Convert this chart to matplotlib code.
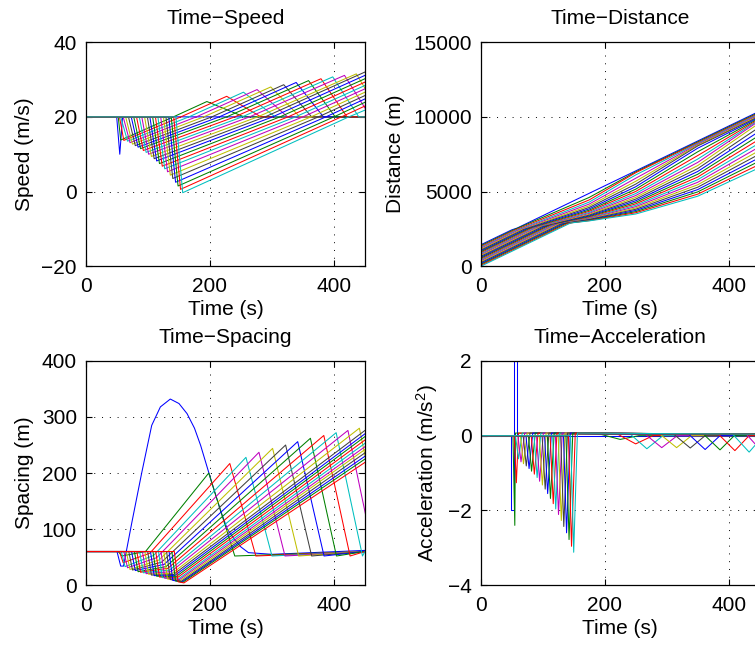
import matplotlib
matplotlib.use('Agg')
import matplotlib.pyplot as plt

plt.rcParams['font.family'] = ['Liberation Sans', 'DejaVu Sans']
plt.rcParams['mathtext.fontset'] = 'custom'
plt.rcParams['mathtext.rm'] = 'Liberation Sans'
plt.rcParams['mathtext.it'] = 'Liberation Sans:italic'

# MATLAB default colour order, cycled over the vehicles
colors = ['#0000ff', '#008000', '#ff0000', '#00bfbf', '#bf00bf', '#bfbf00', '#404040']

# ---------------- speed (m/s), vehicle 1 = leader ----------------
lead_speed_t = [0, 49.5, 54.5, 59, 450]
lead_speed_v = [20, 20, 10, 20, 20]

# followers 2..25
brake_t = [52, 54, 56, 60, 64, 68.5, 73, 77, 81.5, 86, 90, 94.5, 99, 103, 107.5, 112,
           116, 120.5, 125, 129, 133.5, 137.5, 141.5, 145]
min_t = [56, 61, 67, 71, 75, 79.5, 84, 88, 92.5, 97, 101, 105.5, 110, 114, 118.5, 123,
         127, 131.5, 136, 140, 144.5, 148.5, 152.5, 156]
min_v = [13.8, 13.7, 13.5, 13.1, 12.7, 12.3, 11.9, 11.5, 11.0, 10.5, 10.0, 9.4, 8.8, 8.2,
         7.5, 6.8, 6.1, 5.3, 4.4, 3.5, 2.5, 1.5, 0.6, -0.3]
cross_t = [141, 153, 166, 178, 190, 203, 215, 227, 240, 252, 264, 277, 289, 301, 313, 326,
           338, 350, 363, 375, 387, 400, 412, 424]
# followers 2..13 overshoot and settle back to 20 m/s
peak_t = [195, 227, 254, 276, 298, 319, 339, 359, 379, 398, 417, 436]
peak_v = [24.1, 25.5, 26.6, 27.3, 28.0, 28.6, 29.2, 29.7, 30.2, 30.7, 31.1, 31.5]
back_t = [255, 282, 305, 325, 345, 364, 383, 402, 421, 440, 459, 478]
# followers 14..25, still accelerating at t = 450 s
end_v = [32.0, 31.1, 30.2, 29.3, 28.4, 27.5, 26.6, 25.7, 24.8, 23.9, 22.9, 21.8]

# ---------------- distance (m) ----------------
lead_dist_t = [0, 49.5, 59, 450]
lead_dist = [1440, 2430, 2565, 10385]
dist_start = [1380, 1320, 1260, 1200, 1140, 1080, 1020, 960, 900, 840, 780, 720, 660, 600,
              540, 480, 420, 360, 300, 240, 180, 120, 60, 0]
dist_brake = [2420, 2400, 2380, 2400, 2420, 2450, 2480, 2500, 2530, 2560, 2580, 2610, 2640,
              2660, 2690, 2720, 2740, 2770, 2800, 2820, 2850, 2870, 2890, 2900]
dist_times = [175, 250, 350, 450]
dist_175 = [4610, 4442, 4296, 4165, 4046, 3939, 3843, 3756, 3678, 3605, 3538, 3478, 3422,
            3370, 3322, 3277, 3236, 3199, 3165, 3134, 3106, 3080, 3058, 3040]
dist_250 = [6319, 6264, 6114, 5892, 5688, 5499, 5324, 5161, 5009, 4868, 4736, 4612, 4496,
            4386, 4281, 4180, 4083, 3991, 3903, 3818, 3737, 3659, 3584, 3500]
dist_350 = [8327, 8272, 8217, 8162, 8107, 8052, 7902, 7662, 7410, 7175, 6952, 6740, 6538,
            6345, 6157, 5974, 5796, 5623, 5455, 5292, 5133, 4979, 4829, 4690]
dist_450 = [10323, 10266, 10209, 10152, 10095, 10038, 9981, 9924, 9867, 9810, 9753, 9603,
            9328, 9052, 8782, 8517, 8258, 8005, 7758, 7516, 7280, 7050, 6825, 6606]

# ---------------- spacing (m), vehicles 2..25 ----------------
sp2_t = [0, 50, 56, 60.5, 74, 90, 106, 120, 136, 150, 163, 175, 185, 198, 210, 218, 228,
         239, 250, 262, 300, 450]
sp2_s = [60, 60, 34, 34, 112, 201, 285, 318, 332, 324, 306, 280, 249, 201, 158, 130, 100,
         82, 68, 58, 55, 62]
# vehicles 3..25
sp_drop_t = [52, 54, 57, 61, 65, 69, 73.5, 78, 82, 86.5, 91, 95, 99.5, 104, 108, 112.5,
             117, 121, 125.5, 130, 134, 138.5, 142.5]
sp_low_t = [58, 60, 63, 67, 71, 75, 79.5, 84, 88, 92.5, 97, 101, 105.5, 110, 114, 118.5,
            123, 127, 131.5, 136, 140, 144.5, 148.5]
sp_low_s = [52, 40, 33, 31, 28, 27, 26, 24, 23, 22, 20.5, 19.5, 18, 17, 16, 14.5, 13.5,
            12.5, 11, 10, 8.5, 7.5, 6]
sp_rise_t = [96, 103, 109, 114, 118, 122, 126, 129, 132, 135, 137, 139, 141, 143, 145, 147,
             149, 151, 152, 154, 155, 156, 158]
sp_rise_s = [60, 57, 53, 49, 45, 41, 37, 33, 30, 27, 24, 21, 19, 17, 15, 13, 11, 10, 8, 7,
             6, 5, 4]
# vehicles 3..14 reach a peak spacing and close up again
sp_peak_t = [198, 232, 258, 279, 301, 322, 341.5, 362, 383.6, 403.5, 422.5, 441]
sp_peak_s = [200, 217, 228, 237, 244, 250, 256, 262, 267, 272, 276, 280]
sp_back_t = [240, 274, 300, 321, 343, 364, 384, 404, 426, 446, 465, 483]
# vehicles 15..25 at t = 450 s
sp_end_s = [276, 270, 265, 259, 253, 247, 242, 236, 230, 225, 219]

# ---------------- acceleration (m/s^2) ----------------
lead_acc_t = [0, 49.5, 49.5, 54, 54, 58, 58, 450]
lead_acc = [0, 0, -2, -2, 2.3, 2.3, 0, 0]
# followers 2..25: braking dip
dip_t = [55, 57.5, 61, 65, 69, 73.5, 78, 82, 86.5, 91, 95, 99.5, 104, 108, 112.5, 117, 121,
         125.5, 130, 134, 138.5, 142.5, 146.5, 150]
dip_a = [-2.4, -1.26, -0.62, -0.7, -0.75, -0.81, -0.88, -0.95, -1.03, -1.12, -1.22, -1.32,
         -1.43, -1.55, -1.68, -1.82, -1.96, -2.11, -2.27, -2.43, -2.6, -2.78, -2.96, -3.12]
# followers 2..12: slowing back down after the overshoot
wave_start = [195, 222, 242, 266, 290, 312, 336, 360, 384, 407, 429]
wave_t = [225, 250, 268, 292, 316, 338, 362, 386, 410, 433, 455]
wave_a = [-0.1, -0.22, -0.35, -0.32, -0.32, -0.33, -0.37, -0.38, -0.4, -0.44, -0.45]
wave_end = [255, 278, 294, 317, 340, 362, 386, 409, 433, 456, 478]

fig = plt.figure(figsize=(7.55, 6.48), dpi=100)
W, H = 0.3695, 0.346
ax_v = fig.add_axes([0.1139, 0.589, W, H])
ax_d = fig.add_axes([0.6367, 0.589, W, H])
ax_s = fig.add_axes([0.1139, 0.097, W, H])
ax_a = fig.add_axes([0.6367, 0.097, W, H])

LW = 0.75

# speed
ax_v.plot(lead_speed_t, lead_speed_v, color=colors[0], lw=LW)
n_peak = len(peak_t)
for i in range(len(brake_t)):
    t = [0, brake_t[i], min_t[i], cross_t[i]]
    v = [20, 20, min_v[i], 20]
    if i < n_peak:
        t += [peak_t[i], back_t[i]]
        v += [peak_v[i], 20]
        if back_t[i] < 450:
            t.append(450)
            v.append(20)
    else:
        t.append(450)
        v.append(end_v[i - n_peak])
    ax_v.plot(t, v, color=colors[(i + 1) % 7], lw=LW)

# distance
ax_d.plot(lead_dist_t, lead_dist, color=colors[0], lw=LW)
for i in range(len(dist_start)):
    t = [0, brake_t[i]] + dist_times
    d = [dist_start[i], dist_brake[i], dist_175[i], dist_250[i], dist_350[i], dist_450[i]]
    ax_d.plot(t, d, color=colors[(i + 1) % 7], lw=LW)

# spacing
ax_s.plot(sp2_t, sp2_s, color=colors[0], lw=LW)
n_sp_peak = len(sp_peak_t)
for j in range(len(sp_drop_t)):
    t = [0, sp_drop_t[j], sp_low_t[j], sp_rise_t[j]]
    s = [60, 60, sp_low_s[j], sp_rise_s[j]]
    if j < n_sp_peak:
        t += [sp_peak_t[j], sp_back_t[j]]
        s += [sp_peak_s[j], 52]
        if sp_back_t[j] < 450:
            t.append(450)
            s.append(60)
    else:
        t.append(450)
        s.append(sp_end_s[j - n_sp_peak])
    ax_s.plot(t, s, color=colors[(j + 1) % 7], lw=LW)

# acceleration
ax_a.plot(lead_acc_t, lead_acc, color=colors[0], lw=LW)
n_wave = len(wave_t)
for i in range(len(dip_t)):
    t = [0, brake_t[i], dip_t[i], min_t[i]]
    a = [0, 0, dip_a[i], 0.07]
    if i < n_wave:
        t += [wave_start[i], wave_t[i], wave_end[i]]
        a += [0.03, wave_a[i], 0.0]
        if wave_end[i] < 450:
            t.append(450)
            a.append(0)
    else:
        t.append(450)
        a.append(0.04)
    ax_a.plot(t, a, color=colors[(i + 1) % 7], lw=LW)

FS = 15
setup = [
    (ax_v, 'Time\u2212Speed', 'Speed (m/s)', (-20, 40), [-20, 0, 20, 40]),
    (ax_d, 'Time\u2212Distance', 'Distance (m)', (0, 15000), [0, 5000, 10000, 15000]),
    (ax_s, 'Time\u2212Spacing', 'Spacing (m)', (0, 400), [0, 100, 200, 300, 400]),
    (ax_a, 'Time\u2212Acceleration', 'Acceleration (m/s$^2$)', (-4, 2), [-4, -2, 0, 2]),
]
for ax, title, ylab, ylim, yt in setup:
    ax.set_xlim(0, 450)
    ax.set_ylim(*ylim)
    ax.set_xticks([0, 200, 400])
    ax.set_yticks(yt)
    ax.set_title(title, fontsize=FS, pad=13)
    ax.set_xlabel('Time (s)', fontsize=FS, labelpad=3)
    ax.set_ylabel(ylab, fontsize=FS, labelpad=5.5)
    ax.tick_params(direction='in', top=True, right=True, labelsize=FS, length=4, width=0.8)
    ax.tick_params(axis='x', pad=7.8)
    ax.tick_params(axis='y', pad=6.5)
    ax.grid(True, color='k', linestyle=(0, (1, 7)), linewidth=0.7)
    for sp in ax.spines.values():
        sp.set_linewidth(0.9)

fig.savefig('out.png', dpi=100)
